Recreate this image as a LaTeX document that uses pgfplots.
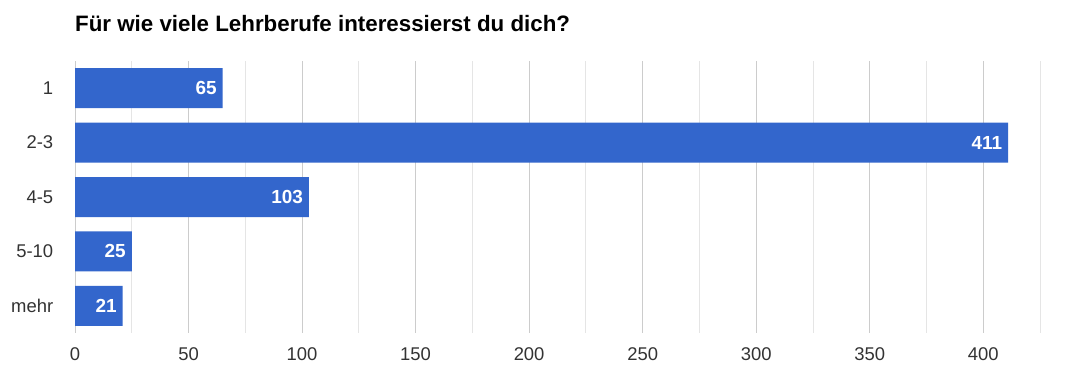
\documentclass[border=0pt]{standalone}
\usepackage{pgfplots}
\pgfplotsset{compat=1.18}
\usepackage{fontspec}
\setmainfont{Liberation Sans}
\definecolor{barblue}{HTML}{3366CC}
\begin{document}
\begin{tikzpicture}[x=1bp,y=1bp]
\path[use as bounding box, fill=white] (0,0) rectangle (1087,365);
\node[anchor=base west, font=\bfseries\fontsize{22.4}{26}\selectfont, inner sep=0] at (75,334) {Für wie viele Lehrberufe interessierst du dich?};
\begin{axis}[at={(75bp,32bp)}, anchor=south west, scale only axis, width=965bp, height=272bp,
 xbar, xmin=0, xmax=425, ymin=-0.5, ymax=4.5, y dir=reverse,
 ytick={0,...,4}, yticklabels={1,2-3,4-5,5-10,mehr},
 xtick={50,100,...,400}, minor xtick={25,75,...,425},
 xmajorgrids, xminorgrids, ymajorgrids=false,
 major grid style={color=black!20, line width=0.8bp}, minor grid style={color=black!10, line width=0.8bp},
 axis line style={draw=none}, major tick style={draw=none}, minor tick style={draw=none},
 extra x ticks={0}, extra x tick style={grid style={color=black!85, line width=1bp}, tick style={draw=none}},
 bar width=40bp,
 nodes near coords, nodes near coords style={anchor=east, xshift=-2.5bp, text=white, font=\bfseries\fontsize{19}{21}\selectfont},
 ticklabel style={font=\fontsize{18.5}{20}\selectfont, text=black!80},
 /pgf/number format/assume math mode=true,
 yticklabel style={xshift=-14bp}, xticklabel style={yshift=-11bp},
]
\addplot[fill=barblue, draw=none] coordinates {(65,0) (411,1) (103,2) (25,3) (21,4)};
\end{axis}
\end{tikzpicture}
\end{document}
